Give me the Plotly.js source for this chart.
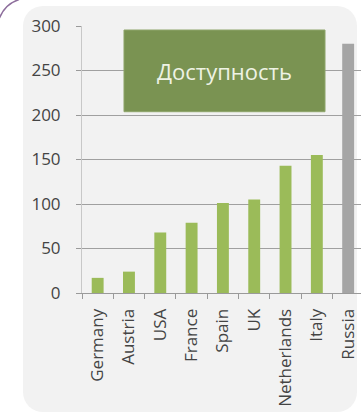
<!DOCTYPE html>
<html>
<head>
<meta charset="utf-8">
<script src="https://cdn.plot.ly/plotly-3.0.1.min.js"></script>
<style>
html,body{margin:0;padding:0;width:361px;height:414px;overflow:hidden;background:#ffffff;}
#arc{position:absolute;left:0;top:0;width:40px;height:40px;}
#card{position:absolute;left:23px;top:6px;width:334px;height:406px;background:#f2f2f2;border-radius:20px;}
#chart{position:absolute;left:0;top:0;width:361px;height:414px;}
</style>
</head>
<body>
<svg id="arc" viewBox="0 0 40 40"><path d="M-0.5,18 A31.3,31.3 0 0 1 19,-0.5" fill="none" stroke="#8d6e9c" stroke-width="1.4"/></svg>
<div id="card"></div>
<div id="chart"></div>
<script>
const countries = ["Germany","Austria","USA","France","Spain","UK","Netherlands","Italy","Russia"];
const values = [17, 24, 68, 79, 101, 105, 143, 155, 280];
const barColors = ["#9bbb59","#9bbb59","#9bbb59","#9bbb59","#9bbb59","#9bbb59","#9bbb59","#9bbb59","#a5a5a5"];
const yTicks = [0, 50, 100, 150, 200, 250, 300];
const boxLabel = "Доступность";

const trace = {
  type: "bar",
  x: countries,
  y: values,
  marker: {color: barColors},
  width: 0.38,
  hoverinfo: "none"
};

const layout = {
  width: 361,
  height: 414,
  margin: {l: 82, r: 0, t: 26, b: 121},
  paper_bgcolor: "rgba(0,0,0,0)",
  plot_bgcolor: "rgba(0,0,0,0)",
  showlegend: false,
  font: {family: "Open Sans, sans-serif", color: "#444444"},
  xaxis: {
    type: "category",
    range: [-0.5, 8.41],
    tickangle: -90,
    ticks: "outside",
    tickson: "boundaries",
    ticklen: 5,
    tickcolor: "#9a9a9a",
    showline: true,
    linecolor: "#9a9a9a",
    linewidth: 1,
    showgrid: false,
    tickfont: {size: 17, color: "#444444"},
    ticklabelstandoff: 8
  },
  yaxis: {
    range: [0, 300],
    tickvals: yTicks,
    ticks: "outside",
    ticklen: 5,
    tickcolor: "#9a9a9a",
    showline: true,
    linecolor: "#c8c8c8",
    showgrid: true,
    gridcolor: "#a0a0a0",
    gridwidth: 1,
    zeroline: false,
    tickfont: {size: 17, color: "#444444"},
    ticklabelstandoff: 12
  },
  shapes: [{
    type: "rect", xref: "paper", yref: "paper",
    x0: 0.1505, x1: 0.871, y0: 0.679, y1: 0.985,
    fillcolor: "#7a9352", line: {color: "#8ea56a", width: 1}, layer: "above"
  }],
  annotations: [{
    xref: "paper", yref: "paper", x: 0.511, y: 0.832,
    text: boxLabel, showarrow: false,
    font: {size: 22, color: "#eef2e4", family: "Open Sans, sans-serif"},
    xanchor: "center", yanchor: "middle"
  }]
};

Plotly.newPlot("chart", [trace], layout, {staticPlot: true, displayModeBar: false});
</script>
</body>
</html>
